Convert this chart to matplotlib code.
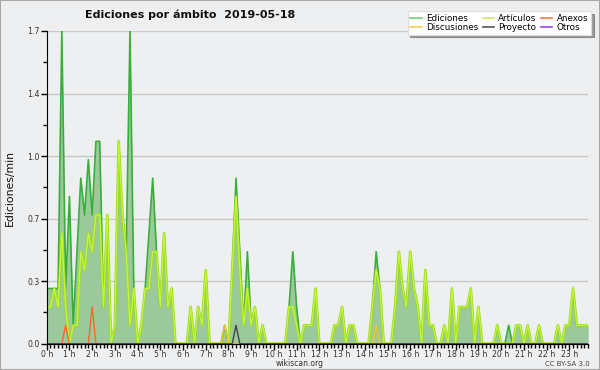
import numpy as np
import matplotlib
matplotlib.use("Agg")
import matplotlib.pyplot as plt
from matplotlib.lines import Line2D
from matplotlib.patches import Rectangle

# 10-minute bins over the day (edits per minute)
ediciones = [
    0.3, 0.3, 0.3, 0.3, 1.7, 0.3, 0.8, 0.1, 0.5, 0.9, 0.7, 1.0,
    0.7, 1.1, 1.1, 0.2, 0.7, 0.0, 0.1, 1.1, 0.7, 0.5, 1.7, 0.3,
    0.0, 0.1, 0.3, 0.6, 0.9, 0.5, 0.2, 0.6, 0.2, 0.3, 0.0, 0.0,
    0.0, 0.0, 0.2, 0.0, 0.2, 0.1, 0.4, 0.0, 0.0, 0.0, 0.0, 0.1,
    0.0, 0.4, 0.9, 0.5, 0.1, 0.5, 0.1, 0.2, 0.0, 0.1, 0.0, 0.0,
    0.0, 0.0, 0.0, 0.0, 0.2, 0.5, 0.2, 0.0, 0.1, 0.1, 0.1, 0.3,
    0.0, 0.0, 0.0, 0.0, 0.1, 0.1, 0.2, 0.0, 0.1, 0.1, 0.0, 0.0,
    0.0, 0.0, 0.2, 0.5, 0.3, 0.0, 0.0, 0.0, 0.2, 0.5, 0.3, 0.2,
    0.5, 0.3, 0.2, 0.0, 0.4, 0.1, 0.1, 0.0, 0.0, 0.1, 0.0, 0.3,
    0.0, 0.2, 0.2, 0.2, 0.3, 0.0, 0.2, 0.0, 0.0, 0.0, 0.0, 0.1,
    0.0, 0.0, 0.1, 0.0, 0.1, 0.1, 0.0, 0.1, 0.0, 0.0, 0.1, 0.0,
    0.0, 0.0, 0.0, 0.1, 0.0, 0.1, 0.1, 0.3, 0.1, 0.1, 0.1, 0.1,
]
articulos = [
    0.2, 0.2, 0.3, 0.2, 0.6, 0.2, 0.0, 0.1, 0.1, 0.5, 0.4, 0.6,
    0.5, 0.7, 0.7, 0.2, 0.7, 0.0, 0.1, 1.1, 0.7, 0.5, 0.1, 0.3,
    0.0, 0.1, 0.3, 0.3, 0.5, 0.5, 0.2, 0.6, 0.2, 0.3, 0.0, 0.0,
    0.0, 0.0, 0.2, 0.0, 0.2, 0.1, 0.4, 0.0, 0.0, 0.0, 0.0, 0.0,
    0.0, 0.4, 0.8, 0.4, 0.1, 0.3, 0.1, 0.2, 0.0, 0.1, 0.0, 0.0,
    0.0, 0.0, 0.0, 0.0, 0.2, 0.2, 0.1, 0.0, 0.1, 0.1, 0.1, 0.3,
    0.0, 0.0, 0.0, 0.0, 0.1, 0.1, 0.2, 0.0, 0.1, 0.1, 0.0, 0.0,
    0.0, 0.0, 0.2, 0.4, 0.3, 0.0, 0.0, 0.0, 0.2, 0.5, 0.3, 0.2,
    0.5, 0.3, 0.2, 0.0, 0.4, 0.1, 0.1, 0.0, 0.0, 0.1, 0.0, 0.3,
    0.0, 0.2, 0.2, 0.2, 0.3, 0.0, 0.2, 0.0, 0.0, 0.0, 0.0, 0.1,
    0.0, 0.0, 0.0, 0.0, 0.1, 0.1, 0.0, 0.1, 0.0, 0.0, 0.1, 0.0,
    0.0, 0.0, 0.0, 0.1, 0.0, 0.1, 0.1, 0.3, 0.1, 0.1, 0.1, 0.1,
]
n_bins = len(ediciones)
anexos = [0.0] * n_bins
anexos[5] = 0.1
anexos[12] = 0.2
discusiones = [0.0] * n_bins
discusiones[47] = 0.1
discusiones[87] = 0.1
proyecto = [0.0] * n_bins
proyecto[50] = 0.1
otros = [0.0] * n_bins

hours = np.arange(n_bins) / 6.0
hour_labels = [f"{h} h" for h in range(24)]
y_max = 1.7

fig = plt.figure(figsize=(6.0, 3.7), dpi=100)
fig.patch.set_facecolor("#eeeff1")
ax = fig.add_axes([46.7 / 600, 26.3 / 370, (588.2 - 46.7) / 600, (343.7 - 31) / 370])
ax.set_facecolor("#eeeff1")

ax.fill_between(hours, 0, ediciones, color="#9cc99c", lw=0, zorder=2)
ax.plot(hours, ediciones, color="#3aae3a", lw=1.2, zorder=3)
ax.plot(hours, articulos, color="#9be010", lw=2.0, zorder=4, alpha=0.8)
ax.plot(hours, articulos, color="#c8f53a", lw=0.9, zorder=4)
ax.plot(hours, anexos, color="#ff6622", lw=1.0, zorder=5)
ax.plot(hours, discusiones, color="#f5c518", lw=1.0, zorder=5)
ax.plot(hours, proyecto, color="#444444", lw=1.0, zorder=5)
ax.plot(hours, otros, color="#9944ee", lw=1.0, zorder=5)

ax.set_xlim(0, hours[-1])
ax.set_ylim(0, y_max)

yt = np.linspace(0, y_max, 6)
ax.set_yticks(yt)
ax.set_yticklabels([f"{v:.1f}" for v in yt])
ax.set_yticks((yt[:-1] + yt[1:]) / 2, minor=True)
ax.set_xticks(np.arange(24))
ax.set_xticklabels(hour_labels)
ax.set_xticks(np.arange(0, hours[-1] + 1e-9, 1 / 6), minor=True)

ax.grid(axis="y", which="major", color="#c8c8c8", lw=1.0, zorder=1)
ax.set_axisbelow(True)
for s in ["top", "right"]:
    ax.spines[s].set_visible(False)
ax.spines["left"].set_color("black")
ax.spines["bottom"].set_color("black")
ax.spines["bottom"].set_zorder(10)
ax.spines["left"].set_zorder(10)
ax.tick_params(axis="y", which="major", labelsize=5.6, length=4, width=1, pad=1.2,
               colors="black", labelcolor="#333333")
ax.tick_params(axis="x", which="major", labelsize=5.6, length=4, width=1, pad=0.3,
               colors="black", labelcolor="#333333")
ax.tick_params(axis="both", which="minor", length=3, width=1, colors="black")

fig.text(85 / 600, 1 - 15 / 370, "Ediciones por ámbito  2019-05-18", fontsize=8.0,
         fontweight="bold", ha="left", va="center", color="#111111")
fig.text(10 / 600, 1 - 188 / 370, "Ediciones/min", rotation=90, fontsize=7.8,
         ha="center", va="center", color="#111111")
fig.text(300 / 600, 1 - 364 / 370, "wikiscan.org", fontsize=5.5, ha="center",
         va="center", color="#333333")
fig.text(590 / 600, 1 - 363.5 / 370, "CC BY-SA 3.0", fontsize=5.0, ha="right",
         va="center", color="#444444")

handles = [
    Line2D([], [], color="#77cc77", lw=1.2, label="Ediciones"),
    Line2D([], [], color="#ffcc44", lw=1.2, label="Discusiones"),
    Line2D([], [], color="#ccee55", lw=1.2, label="Artículos"),
    Line2D([], [], color="#555555", lw=1.2, label="Proyecto"),
    Line2D([], [], color="#ff7744", lw=1.2, label="Anexos"),
    Line2D([], [], color="#9944ee", lw=1.2, label="Otros"),
]
leg = fig.legend(handles=handles, loc="upper right", ncol=3,
                 bbox_to_anchor=(591 / 600, 1 - 11 / 370), fontsize=6.3,
                 frameon=True, fancybox=False, shadow=True, framealpha=1,
                 handlelength=1.3, handletextpad=0.5, columnspacing=0.5,
                 labelspacing=0.05, borderpad=0.3, borderaxespad=0)
leg.get_frame().set_edgecolor("#dddddd")
leg.get_frame().set_linewidth(0.8)

fig.patches.append(Rectangle((0, 0), 1, 1, transform=fig.transFigure, fill=False,
                             edgecolor="#a8a8a8", lw=1.5, zorder=100))

fig.savefig("out.png", dpi=100, facecolor=fig.get_facecolor())
